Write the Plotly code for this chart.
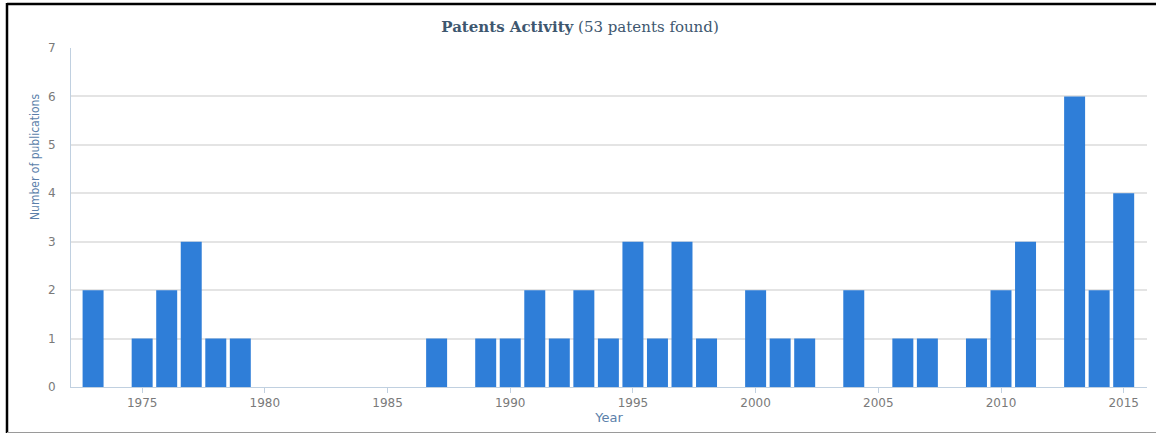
import plotly.graph_objects as go

years = list(range(1973, 2016))
counts = [2, 0, 1, 2, 3, 1, 1, 0, 0, 0, 0, 0, 0, 0, 1, 0, 1, 1, 2, 1,
          2, 1, 3, 1, 3, 1, 0, 2, 1, 1, 0, 2, 0, 1, 1, 0, 1, 2, 3, 0,
          6, 2, 4]
total = sum(counts)

fig = go.Figure(
    go.Bar(x=years, y=counts, marker=dict(color="#2f7ed8", line_width=0),
           hoverinfo="x+y")
)

fig.update_layout(
    width=1156, height=434,
    margin=dict(l=71, r=9, t=48, b=47),
    paper_bgcolor="white", plot_bgcolor="white",
    bargap=0.145,
    showlegend=False,
    title=dict(
        text=f"<b>Patents Activity</b> ({total} patents found)",
        x=580 / 1156, xanchor="center",
        y=1 - 27 / 434, yanchor="middle",
        font=dict(family="DejaVu Serif, serif", size=15, color="#3e576f"),
    ),
    xaxis=dict(
        range=[1972.1, 2015.95],
        tick0=1975, dtick=5,
        showgrid=False, zeroline=False,
        showline=True, linecolor="#c0d0e0", linewidth=1,
        ticks="outside", ticklen=5, tickcolor="#c0d0e0",
        tickfont=dict(family="DejaVu Sans", size=12, color="#7a7a7a"),
        title=dict(text="Year", standoff=0,
                   font=dict(family="DejaVu Sans", size=13, color="#5b7faa")),
    ),
    yaxis=dict(
        range=[0, 7], dtick=1,
        showgrid=True, gridcolor="#e4e4e4", gridwidth=1.5,
        zeroline=False,
        showline=True, linecolor="#c0d0e0", linewidth=1,
        ticklabelstandoff=12,
        tickfont=dict(family="DejaVu Sans", size=12, color="#7a7a7a"),
    ),
    annotations=[dict(
        text="Number of publications", textangle=-90,
        xref="paper", yref="paper",
        x=(35 - 71) / 1076, y=(387 - 157) / 339,
        xanchor="center", yanchor="middle", showarrow=False,
        font=dict(family="DejaVu Sans Condensed, DejaVu Sans", size=12, color="#5b7faa"),
    )],
    shapes=[
        # frame around the widget
        dict(type="line", xref="paper", yref="paper",
             x0=(7 - 71) / 1076, x1=(1170 - 71) / 1076,
             y0=(387 - 4) / 339, y1=(387 - 4) / 339,
             line=dict(color="black", width=2.5)),
        dict(type="line", xref="paper", yref="paper",
             x0=(7 - 71) / 1076, x1=(7 - 71) / 1076,
             y0=(387 - 3) / 339, y1=(387 - 433) / 339,
             line=dict(color="black", width=2.5)),
        dict(type="line", xref="paper", yref="paper",
             x0=(7 - 71) / 1076, x1=(1170 - 71) / 1076,
             y0=(387 - 432.5) / 339, y1=(387 - 432.5) / 339,
             line=dict(color="#9a9a9a", width=1)),
    ],
)

# page has a default 8px body margin; remove it so the figure fills the window
fig.write_html("out.html", config={"displayModeBar": False},
               post_script="document.body.style.margin='0';")
